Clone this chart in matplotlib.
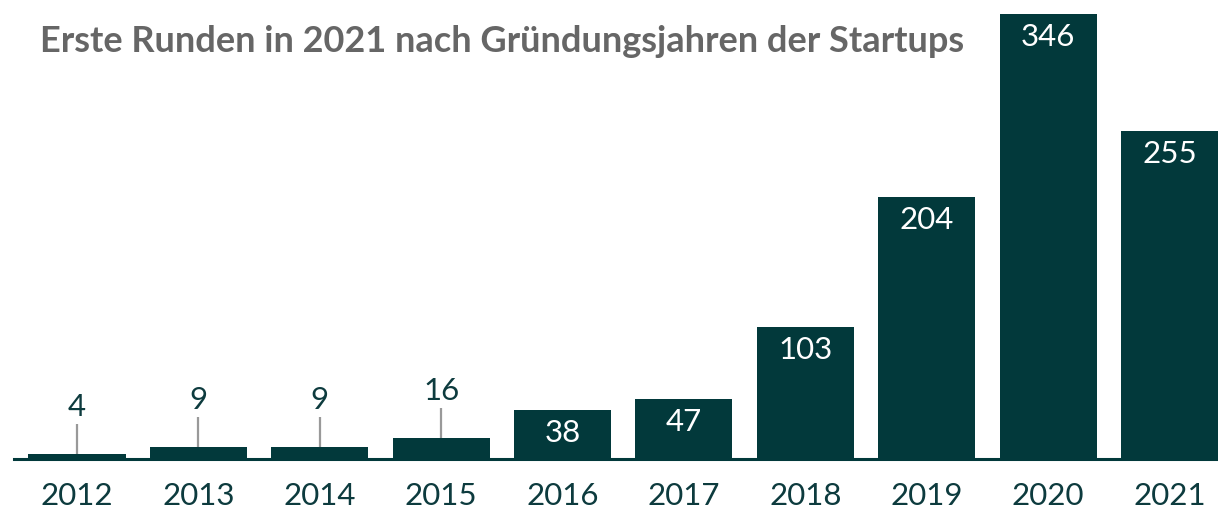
import matplotlib
matplotlib.use("Agg")
import matplotlib.pyplot as plt

years = ["2012", "2013", "2014", "2015", "2016", "2017", "2018", "2019", "2020", "2021"]
values = [4, 9, 9, 16, 38, 47, 103, 204, 346, 255]
title = "Erste Runden in 2021 nach Gründungsjahren der Startups"

BAR = "#02393b"
TXT = "#0d3b3e"
W, H = 1218, 509

plt.rcParams['font.family'] = ['Lato', 'DejaVu Sans']

fig = plt.figure(figsize=(W / 100, H / 100), dpi=100)
ax = fig.add_axes([0, 0, 1, 1])
ax.set_xlim(-0.634, 9.40)
ax.set_ylim(-38.9, 357)
ax.axis('off')

ppu = H / (357 + 38.9)  # pixels per data unit

x = list(range(len(years)))
ax.bar(x, values, width=0.80, color=BAR, zorder=2)
ax.axhline(0, xmin=14 / W, xmax=1, color=BAR, lw=2.2, zorder=3)

FS = 22.5
for xi, v, yr in zip(x, values, years):
    ax.annotate(yr, (xi, 0), xytext=(0, -46), textcoords='offset pixels',
                ha='center', va='baseline', fontsize=FS, color=TXT)
    if v < 20:
        ax.vlines(xi, v, v + 30 / ppu, color='#999999', lw=1.6, zorder=3)
        ax.annotate(str(v), (xi, v), xytext=(0, 38), textcoords='offset pixels',
                    ha='center', va='baseline', fontsize=FS, color=TXT)
    else:
        ax.annotate(str(v), (xi, v), xytext=(0, -32), textcoords='offset pixels',
                    ha='center', va='baseline', fontsize=FS, color='white', zorder=4)

fig.text(40 / W, 1 - 52 / H, title, fontsize=26, fontweight='bold',
         color='#666666', ha='left', va='baseline')

fig.savefig("out.png", dpi=100)
